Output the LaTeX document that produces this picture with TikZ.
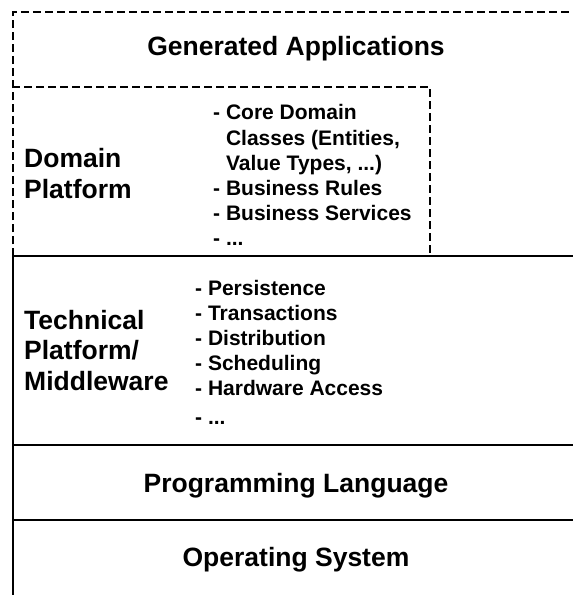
\documentclass[tikz,border=0pt]{standalone}
\usepackage{fontspec}
\setmainfont{Liberation Sans}
\begin{document}
\begin{tikzpicture}[x=1pt,y=-1pt,
  dashbox/.style={line width=2.5pt,dash pattern=on 8pt off 4pt,line cap=butt},
  solidline/.style={line width=2.7pt},
  biglabel/.style={inner sep=0pt,font=\fontsize{26.5}{30}\selectfont\bfseries},
  listitem/.style={inner sep=0pt,anchor=base west,font=\fontsize{21}{25}\selectfont\bfseries}]
\useasboundingbox (0,0) rectangle (573,595);
% coordinates of the layers
\coordinate (gaTL) at (13,12);
\coordinate (gaTR) at (590,12);
\coordinate (dpTL) at (13,87);
\coordinate (dpTR) at (430,87);
\coordinate (dpBR) at (430,256);
\coordinate (tpTL) at (13,256);
\coordinate (tpTR) at (590,256);
\coordinate (plL) at (13,445);
\coordinate (plR) at (590,445);
\coordinate (osL) at (13,520);
\coordinate (osR) at (590,520);
\coordinate (bot) at (13,600);
% generated applications (dashed)
\draw[dashbox] (tpTL) -- (gaTL) -- (gaTR);
% domain platform (dashed)
\draw[dashbox] (tpTL) -- (dpTL) -- (dpTR) -- (dpBR);
% solid layers
\draw[solidline] (bot) -- (tpTL) -- (tpTR);
\draw[solidline] (plL) -- (plR);
\draw[solidline] (osL) -- (osR);
% texts
\node[biglabel,anchor=base] (ga) at (296,55) {Generated Applications};
\node[biglabel,anchor=base west] (dp1) at (24,167) {Domain};
\node[biglabel,anchor=base west] (dp2) at (24,198) {Platform};
\node[listitem] (dl1) at (213,119) {- Core Domain};
\node[listitem] (dl2) at (213,145) {\phantom{- }Classes (Entities,};
\node[listitem] (dl3) at (213,170) {\phantom{- }Value Types, ...)};
\node[listitem] (dl4) at (213,195) {- Business Rules};
\node[listitem] (dl5) at (213,220) {- Business Services};
\node[listitem] (dl6) at (213,245) {- ...};
\node[biglabel,anchor=base west] (tp1) at (24,329) {Technical};
\node[biglabel,anchor=base west] (tp2) at (24,359) {Platform/};
\node[biglabel,anchor=base west] (tp3) at (24,390) {Middleware};
\node[listitem] (tl1) at (195,295) {- Persistence};
\node[listitem] (tl2) at (195,320) {- Transactions};
\node[listitem] (tl3) at (195,345) {- Distribution};
\node[listitem] (tl4) at (195,370) {- Scheduling};
\node[listitem] (tl5) at (195,395) {- Hardware Access};
\node[listitem] (tl6) at (195,424) {- ...};
\node[biglabel,anchor=base] (pl) at (296,492) {Programming Language};
\node[biglabel,anchor=base] (os) at (296,566) {Operating System};
\end{tikzpicture}
\end{document}
